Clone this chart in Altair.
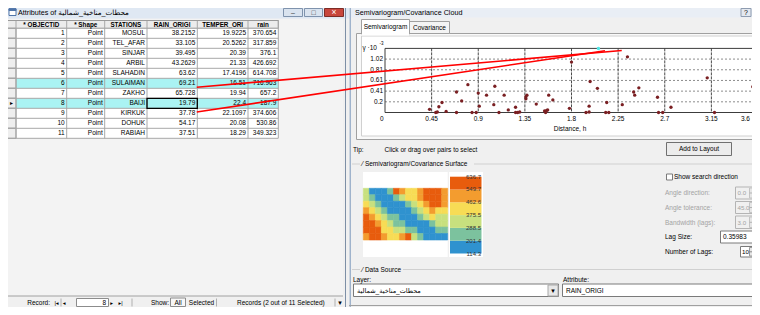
import altair as alt
import pandas as pd

# ----------------------------- data -----------------------------
object_ids = list(range(1, 12))
shapes = ["Point"] * 11
stations = ["MOSUL", "TEL_AFAR", "SINJAR", "ARBIL", "SLAHADIN", "SULAIMAN",
            "ZAKHO", "BAIJI", "KIRKUK", "DOHUK", "RABIAH"]
rain_origi = ["38.2152", "33.105", "39.495", "43.2629", "63.62", "69.21",
              "65.728", "19.79", "37.78", "54.17", "37.51"]
temper_ori = ["19.9225", "20.5262", "20.39", "21.33", "17.4196", "16.51",
              "19.94", "22.4", "22.1097", "20.08", "18.29"]
rain_vals = ["370.654", "317.859", "376.1", "426.692", "614.708", "716.963",
             "657.2", "187.9", "374.606", "530.86", "349.323"]
header_labels = ["* OBJECTID", "* Shape", "STATIONS", "RAIN_ORIGI", "TEMPER_ORI", "rain"]
selected_rows = [6, 8]
current_row = [8]

# semivariogram cloud (distance h, gamma * 10^-3)
pair_dist = [0.43, 0.49, 0.505, 0.52, 0.55, 0.59, 0.69, 0.69, 0.74, 0.80, 0.84, 0.88,
             0.90, 0.91, 0.98, 1.05, 1.06, 1.10, 1.15, 1.19, 1.26, 1.26, 1.28, 1.30,
             1.36, 1.36, 1.37, 1.46, 1.54, 1.55, 1.56, 1.57, 1.58, 1.62, 1.78, 1.80,
             1.94, 1.97, 1.97, 1.98, 2.05, 2.14, 2.13, 2.16, 2.29, 2.34, 2.40, 2.41,
             2.45, 2.63, 2.64, 2.68, 2.76, 3.11, 3.18, 3.55]
pair_gamma = [0.06, 0.0, 0.01, 0.11, 0.19, 0.02, 0.39, 0.0, 0.22, 0.53, 0.0, 0.0,
              0.37, 0.12, 0.33, 0.15, 0.50, 0.0, 0.33, 0.05, 0.10, 0.0, 0.0, 0.01,
              0.26, 0.30, 0.33, 0.16, 0.03, 0.0, 0.04, 0.05, 0.33, 0.24, 0.08, 0.96,
              0.0, 0.12, 0.01, 0.59, 0.46, 0.19, 0.0, 0.0, 0.15, 1.06, 0.39, 0.33,
              0.47, 0.29, 0.0, 0.0, 0.10, 0.66, 0.0, 0.49]
sel_dist = [2.06]
sel_gamma = [1.221]
x_ticks = [0.45, 0.9, 1.35, 1.8, 2.25, 2.7, 3.15, 3.6]
x_tick_labels = ["0.45", "0.9", "1.35", "1.8", "2.25", "2.7", "3.15", "3.6"]
y_ticks = [0.2035, 0.407, 0.6105, 0.814, 1.0175]
y_tick_labels = ["0.2", "0.41", "0.61", "0.81", "1.02"]
# red link lines from table cells to the selected pair (distance / gamma units)
link_d1 = [-1.817, -1.817]
link_g1 = [0.48, 0.0095]
link_d2 = [2.285, 2.123]
link_g2 = [1.18, 1.177]

# semivariogram surface legend
legend_breaks = [114.3, 201.4, 288.5, 375.5, 462.6, 549.7, 636.7]
legend_labels = ["114.3", "201.4", "288.5", "375.5", "462.6", "549.7", "636.7"]
legend_colors = ["#2f92cf", "#7cc29e", "#c8e07e", "#f7dc55", "#f39c2f", "#e85c0d"]
surface_grid = [
    [2, 0, 0, 0, 1, 5, 4, 3, 3, 4, 5, 5, 5, 4],
    [2, 1, 0, 0, 0, 1, 2, 3, 3, 4, 5, 5, 5, 4],
    [3, 2, 1, 0, 0, 0, 0, 1, 2, 3, 4, 5, 5, 4],
    [4, 3, 2, 1, 0, 0, 0, 0, 1, 2, 3, 4, 3, 3],
    [5, 4, 3, 2, 1, 1, 0, 0, 0, 1, 2, 3, 2, 2],
    [5, 5, 4, 3, 2, 1, 1, 0, 0, 0, 0, 1, 2, 2],
    [5, 5, 5, 3, 3, 2, 2, 1, 1, 0, 0, 0, 1, 1],
    [4, 5, 5, 4, 3, 3, 4, 5, 2, 1, 0, 0, 0, 0],
]

# ----------------------------- helpers -----------------------------
F = "Liberation Sans, DejaVu Sans, sans-serif"
O = 8  # page margin offset
GRAY = "#a3a3a3"


def R(x, x2, y, y2, fill, stroke="transparent"):
    return dict(x=x - O, x2=x2 - O, y=y - O, y2=y2 - O, fill=fill, stroke=stroke)


def rect_layer(items, sw=1.0):
    df = pd.DataFrame(items)
    return alt.Chart(df).mark_rect(strokeWidth=sw).encode(
        x=alt.X("x:Q", scale=None), x2="x2:Q",
        y=alt.Y("y:Q", scale=None), y2="y2:Q",
        fill=alt.Fill("fill:N", scale=None),
        stroke=alt.Stroke("stroke:N", scale=None))


def T(x, y, t, c="#000000", s=6.5):
    return dict(x=x - O, y=y - O, t=str(t), c=c, s=s)


def text_layer(items, align="left", weight="normal"):
    df = pd.DataFrame(items)
    return alt.Chart(df).mark_text(align=align, baseline="middle", font=F, fontWeight=weight).encode(
        x=alt.X("x:Q", scale=None), y=alt.Y("y:Q", scale=None),
        text="t:N", color=alt.Color("c:N", scale=None), size=alt.Size("s:Q", scale=None))


def L(x, x2, y, y2, c):
    return dict(x=x - O, x2=x2 - O, y=y - O, y2=y2 - O, c=c)


def line_layer(items, sw=1.0, dash=None):
    df = pd.DataFrame(items)
    kw = dict(strokeWidth=sw)
    if dash:
        kw["strokeDash"] = dash
    return alt.Chart(df).mark_rule(**kw).encode(
        x=alt.X("x:Q", scale=None), x2="x2:Q", y=alt.Y("y:Q", scale=None), y2="y2:Q",
        color=alt.Color("c:N", scale=None))


layers = []

# ----------------------------- left window -----------------------------
layers.append(rect_layer([
    R(0, 349, 0, 315, "#f0f0f0"),
    R(0, 349, 0, 18.5, "#dfe8f3"),
    R(9, 16, 8.8, 15.5, "#ffffff", "#4f74a8"),
    R(9, 16, 8.8, 10.5, "#4f74a8", "#4f74a8"),
    R(283.5, 302.5, 8.5, 16.5, "#d9e3ef", "#7f93ad"),
    R(304.5, 322.5, 8.5, 16.5, "#d9e3ef", "#7f93ad"),
    R(324.5, 343.5, 8.5, 16.5, "#c8463c", "#7d2c26"),
    R(7, 343, 19, 296, "#f3f3f3"),
    R(7, 278.3, 20.5, 28.3, "#ececec", "#9a9a9a"),
    R(16, 278.3, 28.3, 138.3, "#ffffff"),
    R(7, 343, 296, 312, "#f0f0f0"),
    R(76.5, 108.5, 298.5, 306.5, "#ffffff", "#8c8c8c"),
    R(170.5, 185.5, 298, 306.5, "#f7f7f7", "#8c8c8c"),
]))

tbl = pd.DataFrame({"r": object_ids, "oid": [str(i) for i in object_ids], "shp": shapes,
                    "st": stations, "ro": rain_origi, "tp": temper_ori, "rn": rain_vals})
TY = alt.Scale(domain=[0, 11], range=[23.3 - O, 133.3 - O], zero=False, nice=False)

# selected rows highlight
sel_df = pd.DataFrame({"r": selected_rows})
layers.append(alt.Chart(sel_df).transform_calculate(top="datum.r - 0.5", bot="datum.r + 0.5")
              .mark_rect(color="#aaf3f3").encode(
                  x=alt.value(16 - O), x2=alt.value(278.3 - O),
                  y=alt.Y("top:Q", scale=TY, axis=None), y2="bot:Q"))
# row header cells
layers.append(alt.Chart(tbl).transform_calculate(top="datum.r - 0.5", bot="datum.r + 0.5")
              .mark_rect(fill="#eeeeee", stroke="#9a9a9a", strokeWidth=1).encode(
                  x=alt.value(7 - O), x2=alt.value(16 - O),
                  y=alt.Y("top:Q", scale=TY, axis=None), y2="bot:Q"))
# row separators
bounds = pd.DataFrame({"b": [k + 0.5 for k in range(12)]})
layers.append(alt.Chart(bounds).mark_rule(color="#a8a8a8", strokeWidth=1).encode(
    y=alt.Y("b:Q", scale=TY, axis=None), x=alt.value(7 - O), x2=alt.value(278.3 - O)))

col_edges = [16, 66.7, 104.7, 147, 197.3, 248, 278.3]
layers.append(line_layer([L(e, e, 20.5, 138.3, "#a8a8a8") for e in col_edges] + [
    L(7, 7, 19, 296, "#505050"),
    L(7, 278.3, 20.5, 20.5, "#9a9a9a"),
    L(7, 343, 296, 296, "#a0a0a0"),
    L(61, 61, 298.5, 306.5, "#b0b0b0"),
    L(132, 132, 298.5, 306.5, "#b0b0b0"),
    L(216.5, 216.5, 298.5, 306.5, "#b0b0b0"),
    L(335, 335, 298.5, 306.5, "#b0b0b0"),
    L(345.5, 345.5, 0, 315, "#7d8fa6"),
    L(349.5, 349.5, 0, 315, "#a9bbd1"),
]))

# header text
hdr_centers = [(col_edges[i] + col_edges[i + 1]) / 2 for i in range(6)]
layers.append(text_layer([T(cx, 24.6, lab, s=6.3) for cx, lab in zip(hdr_centers, header_labels)],
                         align="center", weight="bold"))

# table cell texts
for fld, xr in zip(["oid", "shp", "st", "ro", "tp", "rn"], col_edges[1:]):
    layers.append(alt.Chart(tbl).mark_text(align="right", baseline="middle", font=F,
                                           fontSize=6.5, color="#000000").encode(
        x=alt.value(xr - O - 2), y=alt.Y("r:Q", scale=TY, axis=None), text=f"{fld}:N"))

# current cell + marker
cur_df = pd.DataFrame({"r": current_row})
layers.append(alt.Chart(cur_df).transform_calculate(top="datum.r - 0.5", bot="datum.r + 0.5")
              .mark_rect(fill="transparent", stroke="#000000", strokeWidth=1.3).encode(
                  x=alt.value(147 - O), x2=alt.value(197.3 - O),
                  y=alt.Y("top:Q", scale=TY, axis=None), y2="bot:Q"))
layers.append(alt.Chart(cur_df).mark_text(text="▸", fontSize=6, color="#000000", font=F).encode(
    x=alt.value(11.5 - O), y=alt.Y("r:Q", scale=TY, axis=None)))

# left window texts
layers.append(text_layer([
    T(18, 12.8, "Attributes of محطات_مناخية_شمالية", s=7.2),
    T(151, 302.5, "Show:"),
    T(237, 302.5, "Records (2 out of 11 Selected)"),
]))
layers.append(text_layer([
    T(293, 12.5, "–", c="#333333", s=7),
    T(313.5, 12.6, "□", c="#333333", s=7),
    T(334, 12.4, "×", c="#ffffff", s=8.5),
    T(56.5, 302.5, "|◂", s=5.5),
    T(64, 302.5, "◂", s=5.5),
    T(111.5, 302.5, "▸", s=5.5),
    T(120.5, 302.5, "▸|", s=5.5),
    T(178, 302.5, "All"),
    T(201.5, 302.5, "Selected"),
    T(340, 302.5, "▾", s=7),
], align="center"))
layers.append(text_layer([
    T(50, 302.5, "Record:"),
    T(106, 302.5, "8"),
], align="right"))

# ----------------------------- right window -----------------------------
layers.append(rect_layer([
    R(349.5, 760, 0, 315, "#f0f0f0"),
    R(350, 760, 0, 17.5, "#e9eef5"),
    R(741, 751, 8.5, 16.5, "#e3e8ef", "#8e9cb0"),
    R(356.5, 765, 33.5, 139.5, "#f9f9f9", "#a0a0a0"),
    R(361.5, 765, 36, 136, "#ffffff", "#d0d0d0"),
    R(409.5, 449.5, 21.5, 33.5, "#f4f4f4", "#a0a0a0"),
    R(361.5, 409.5, 19.5, 34, "#ffffff", "#a0a0a0"),
    R(362, 409, 33, 35.5, "#ffffff"),
    R(666.5, 731.5, 142.5, 155.5, "#ececec", "#707070"),
    R(363, 447.7, 172, 257, "#ffffff"),
    R(449, 483, 172, 257, "#ffffff"),
    R(666.5, 672.5, 174, 180, "#ffffff", "#7a7a7a"),
    R(735.5, 765, 187, 199, "#f0f0f0", "#b4b4b4"),
    R(735.5, 765, 201.5, 213.5, "#f0f0f0", "#b4b4b4"),
    R(735.5, 765, 216, 228.5, "#f0f0f0", "#b4b4b4"),
    R(720.5, 765, 231, 243, "#ffffff", "#7a7a7a"),
    R(740.5, 765, 246.5, 257, "#ffffff", "#7a7a7a"),
    # spinner buttons at the right edge of the numeric boxes
    R(749.5, 765, 188, 198, "#e6e6e6", "#c4c4c4"),
    R(749.5, 765, 202.5, 212.5, "#e6e6e6", "#c4c4c4"),
    R(749.5, 765, 217, 227.5, "#e6e6e6", "#c4c4c4"),
    R(749.5, 765, 247.5, 256, "#e6e6e6", "#9a9a9a"),
    R(353.5, 558.5, 284, 296.5, "#ffffff", "#7a7a7a"),
    R(548, 558, 285, 296, "#e8e8e8", "#a8a8a8"),
    R(562.5, 765, 284, 296.5, "#ffffff", "#7a7a7a"),
]))
layers.append(line_layer([
    L(350.5, 350.5, 0, 315, "#9fb3cc"),
    L(352, 360, 164, 164, "#d0d0d0"),
    L(474, 760, 164, 164, "#d0d0d0"),
    L(352, 360, 269.5, 269.5, "#d0d0d0"),
    L(403, 760, 269.5, 269.5, "#d0d0d0"),
    L(349, 760, 305.5, 305.5, "#a0a0a0"),
    L(749.5, 760, 193, 193, "#b4b4b4"),
    L(749.5, 760, 207.5, 207.5, "#b4b4b4"),
    L(749.5, 760, 222.3, 222.3, "#b4b4b4"),
    L(749.5, 760, 251.8, 251.8, "#8a8a8a"),
]))

# ---- semivariogram cloud ----
XS = alt.Scale(domain=[0, 3.6], range=[385 - O, 758 - O], zero=False, nice=False)
YS = alt.Scale(domain=[0, 1.221], range=[112.5 - O, 48.4 - O], zero=False, nice=False)

xt = pd.DataFrame({"d": x_ticks, "lab": x_tick_labels})
yt = pd.DataFrame({"g": y_ticks, "lab": y_tick_labels})
layers.append(alt.Chart(yt).mark_rule(color="#8c8c8c", strokeWidth=1, strokeDash=[2, 2]).encode(
    y=alt.Y("g:Q", scale=YS, axis=None), x=alt.value(385 - O), x2=alt.value(760 - O)))
layers.append(alt.Chart(xt).mark_rule(color="#4a4a4a", strokeWidth=1, strokeDash=[3, 1]).encode(
    x=alt.X("d:Q", scale=XS, axis=None), y=alt.value(48.4 - O), y2=alt.value(112.5 - O)))
layers.append(rect_layer([R(385, 770, 48.4, 112.5, "transparent", "#3c3c3c")]))

pts = pd.DataFrame({"d": pair_dist, "g": pair_gamma})
layers.append(alt.Chart(pts).mark_circle(size=11, color="#7a1f22", opacity=1).encode(
    x=alt.X("d:Q", scale=XS, axis=None), y=alt.Y("g:Q", scale=YS, axis=None)))
sel = pd.DataFrame({"d": sel_dist, "g": sel_gamma})
layers.append(alt.Chart(sel).mark_circle(size=12, color="#4fe6e6", opacity=1).encode(
    x=alt.X("d:Q", scale=XS, axis=None), y=alt.Y("g:Q", scale=YS, axis=None)))

xt_mid = xt[xt["d"] < 3.5]
xt_end = xt[xt["d"] >= 3.5]
layers.append(alt.Chart(xt_mid).mark_text(align="center", baseline="middle", font=F, fontSize=6.5,
                                          color="#000000").encode(
    x=alt.X("d:Q", scale=XS, axis=None), y=alt.value(118.7 - O), text="lab:N"))
layers.append(alt.Chart(xt_end).mark_text(align="right", baseline="middle", font=F, fontSize=6.5,
                                          color="#000000", dx=-8).encode(
    x=alt.X("d:Q", scale=XS, axis=None), y=alt.value(118.7 - O), text="lab:N"))
zero_df = pd.DataFrame({"d": [0.0], "lab": ["0"]})
layers.append(alt.Chart(zero_df).mark_text(align="right", baseline="middle", font=F, fontSize=6.5,
                                           color="#000000", dx=-1.5).encode(
    x=alt.X("d:Q", scale=XS, axis=None), y=alt.value(118.7 - O), text="lab:N"))
layers.append(alt.Chart(yt).mark_text(align="right", baseline="middle", font=F, fontSize=6.5,
                                      color="#000000").encode(
    y=alt.Y("g:Q", scale=YS, axis=None), x=alt.value(383 - O), text="lab:N"))

# ---- surface ----
cells = []
for r, row in enumerate(surface_grid):
    for c, v in enumerate(row):
        cells.append({"c": c, "c2": c + 1, "r": r, "r2": r + 1, "v": v})
surf = pd.DataFrame(cells)
SX = alt.Scale(domain=[0, 14], range=[363.3 - O, 447.7 - O], zero=False, nice=False)
SY = alt.Scale(domain=[0, 8], range=[188.3 - O, 240 - O], zero=False, nice=False)
cls_scale = alt.Scale(domain=[0, 1, 2, 3, 4, 5], range=legend_colors)
layers.append(alt.Chart(surf).mark_rect(strokeWidth=0.6).encode(
    x=alt.X("c:Q", scale=SX, axis=None), x2="c2:Q",
    y=alt.Y("r:Q", scale=SY, axis=None), y2="r2:Q",
    fill=alt.Fill("v:O", scale=cls_scale, legend=None),
    stroke=alt.Stroke("v:O", scale=cls_scale, legend=None)))

band = pd.DataFrame({"lo": legend_breaks[:-1], "hi": legend_breaks[1:], "col": legend_colors})
LY = alt.Scale(domain=[114.3, 636.7], range=[253.5 - O, 176.7 - O], zero=False, nice=False)
layers.append(alt.Chart(band).mark_rect().encode(
    x=alt.value(450 - O), x2=alt.value(481.5 - O),
    y=alt.Y("lo:Q", scale=LY, axis=None), y2="hi:Q",
    fill=alt.Fill("col:N", scale=None)))
leg_lab = pd.DataFrame({"v": legend_breaks, "lab": legend_labels})
layers.append(alt.Chart(leg_lab).mark_text(align="right", baseline="middle", font=F, fontSize=6,
                                           color="#333333").encode(
    y=alt.Y("v:Q", scale=LY, axis=None), x=alt.value(481 - O), text="lab:N"))

# ---- right window texts ----
layers.append(text_layer([
    T(355, 12.6, "Semivariogram/Covariance Cloud", s=7.2),
    T(362.5, 47.8, "γ ·10", s=6.5),
    T(379.5, 43.5, "-3", s=4.5),
    T(353, 149.5, "Tip:"),
    T(384.5, 149.5, "Click or drag over pairs to select"),
    T(362, 164, "⁄ Semivariogram/Covariance Surface"),
    T(674, 177, "Show search direction"),
    T(665, 193, "Angle direction:", c=GRAY),
    T(737.5, 193, "0.0", c=GRAY, s=6.2),
    T(665, 207.7, "Angle tolerance:", c=GRAY),
    T(737.5, 207.7, "45.0", c=GRAY, s=6.2),
    T(665, 222.5, "Bandwidth (lags):", c=GRAY),
    T(737.5, 222.5, "3.0", c=GRAY, s=6.2),
    T(665, 237.3, "Lag Size:"),
    T(723, 237, "0.35983"),
    T(665, 252, "Number of Lags:"),
    T(742, 252, "10", s=6.2),
    T(362, 269.5, "⁄ Data Source"),
    T(353, 279.5, "Layer:"),
    T(563, 279.5, "Attribute:"),
    T(357, 290.5, "محطات_مناخية_شمالية"),
    T(566, 290.5, "RAIN_ORIGI"),
]))
layers.append(text_layer([
    T(385.5, 26.5, "Semivariogram"),
    T(429.5, 27.5, "Covariance"),
    T(570, 129.3, "Distance, h"),
    T(699, 149, "Add to Layout"),
    T(746, 12.6, "?", s=7),
    T(553, 290.5, "▾", s=7),
], align="center"))

# ---- red link lines (drawn last, over both windows) ----
links = pd.DataFrame({"d1": link_d1, "g1": link_g1, "d2": link_d2, "g2": link_g2})
layers.append(alt.Chart(links).mark_rule(color="#ff0000", strokeWidth=1.6).encode(
    x=alt.X("d1:Q", scale=XS, axis=None), x2="d2:Q",
    y=alt.Y("g1:Q", scale=YS, axis=None), y2="g2:Q"))

chart = alt.layer(*layers).resolve_scale(
    x="independent", y="independent", color="independent", size="independent",
    fill="independent", stroke="independent"
).properties(
    width=744, height=299, padding=0,
    autosize=alt.AutoSizeParams(type="none"), background="#ffffff"
).configure_view(stroke=None)

chart.save("out.html", embed_options={"renderer": "svg", "actions": False})
